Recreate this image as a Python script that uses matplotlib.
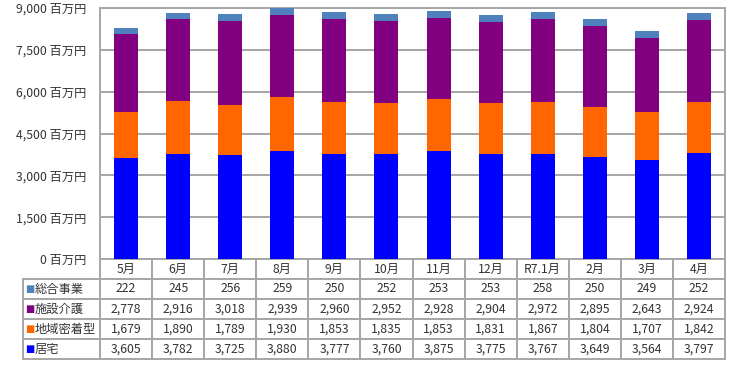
import matplotlib
matplotlib.use("Agg")
import matplotlib.pyplot as plt
import numpy as np

plt.rcParams['font.family'] = ['Noto Sans CJK JP', 'DejaVu Sans']

months = ['5月', '6月', '7月', '8月', '9月', '10月', '11月', '12月', 'R7.1月', '2月', '3月', '4月']
series_names = ['総合事業', '施設介護', '地域密着型', '居宅']
kyotaku = [3605, 3782, 3725, 3880, 3777, 3760, 3875, 3775, 3767, 3649, 3564, 3797]
chiiki = [1679, 1890, 1789, 1930, 1853, 1835, 1853, 1831, 1867, 1804, 1707, 1842]
shisetsu = [2778, 2916, 3018, 2939, 2960, 2952, 2928, 2904, 2972, 2895, 2643, 2924]
sougou = [222, 245, 256, 259, 250, 252, 253, 253, 258, 250, 249, 252]
yticks = [0, 1500, 3000, 4500, 6000, 7500, 9000]

colors = {'居宅': '#0000FF', '地域密着型': '#FF6600', '施設介護': '#800080', '総合事業': '#4F81BD'}
values = {'居宅': kyotaku, '地域密着型': chiiki, '施設介護': shisetsu, '総合事業': sougou}

fig = plt.figure(figsize=(7.31, 3.65), dpi=100)
ax = fig.add_axes([100 / 731, (365 - 259) / 365, 625 / 731, 251 / 365])

x = np.arange(len(months))
bottom = np.zeros(len(months))
for name in ['居宅', '地域密着型', '施設介護', '総合事業']:
    v = np.array(values[name])
    ax.bar(x, v, width=0.46, bottom=bottom, color=colors[name], zorder=3)
    bottom += v

ax.set_xlim(-0.5, len(months) - 0.5)
ax.set_ylim(0, 9000)
ax.set_yticks(yticks)
ax.set_yticklabels(['{:,} 百万円'.format(t) for t in yticks], fontsize=8.8, color='#333333')
ax.tick_params(axis='y', length=0, pad=10)
ax.set_xticks([])
ax.grid(axis='y', color='#A6A6A6', linewidth=1.4, zorder=0)
for s in ax.spines.values():
    s.set_color('#A6A6A6')
    s.set_linewidth(1.4)
ax.spines['bottom'].set_visible(False)

# data table
cell_text = []
for name in series_names:
    cell_text.append([name] + ['{:,}'.format(v) for v in values[name]])
col_labels = [''] + months
widths = [77] + [52] * 12
tbl = ax.table(cellText=cell_text, colLabels=col_labels, colWidths=widths,
               cellLoc='center', bbox=[-77 / 625, -100 / 251, 702 / 625, 100 / 251])
tbl.auto_set_font_size(False)
tbl.set_fontsize(8.8)
for (r, c), cell in tbl.get_celld().items():
    cell.set_edgecolor('#A6A6A6')
    cell.set_linewidth(1.4)
    cell.get_text().set_color('#333333')
    if c == 0:
        cell.get_text().set_ha('left')
        cell._loc = 'left'
        cell.PAD = 12 / 77
    if r == 0 and c == 0:
        cell.visible_edges = ''

row_h = (100 / 251) / 5
for i, name in enumerate(series_names):
    yc = -100 / 251 + row_h * (3 - i + 0.5)
    ax.text(-75 / 625, yc, '■', color=colors[name], fontsize=7, va='center', ha='left',
            transform=ax.transAxes, family=['DejaVu Sans'])

fig.savefig('out.png', dpi=100)
